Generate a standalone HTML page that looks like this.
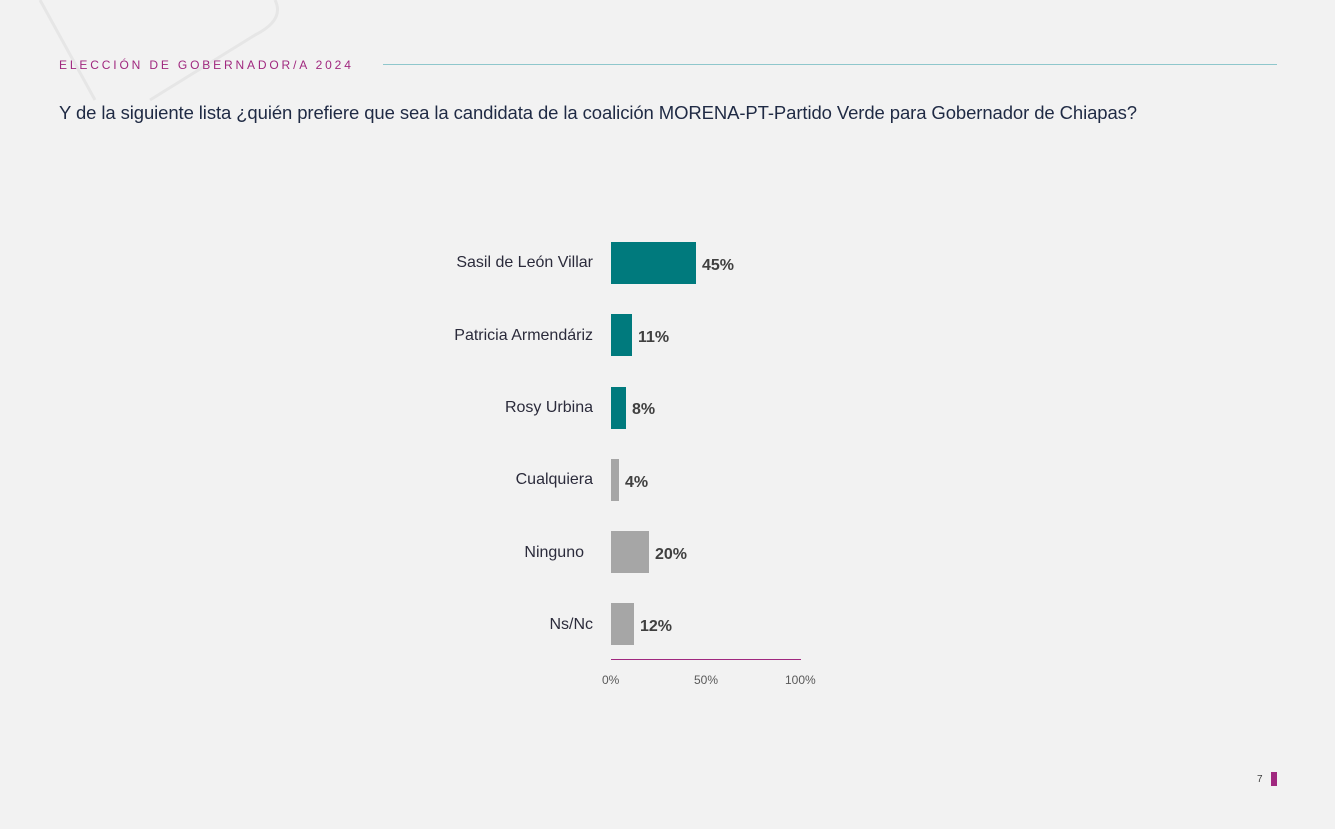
<!DOCTYPE html>
<html><head><meta charset="utf-8"><style>
body{margin:0;width:1335px;height:829px;background:#f2f2f2;position:relative;overflow:hidden;font-family:"Liberation Sans",sans-serif;}
.a{position:absolute;}
.lbl{position:absolute;right:742px;font-size:16px;color:#2b2b3b;white-space:nowrap;}
.bar{position:absolute;left:611px;height:42px;}
.val{position:absolute;font-size:16px;font-weight:bold;color:#404040;}
.tk{position:absolute;top:673px;font-size:12px;color:#595959;}
</style></head><body>
<svg class="a" style="left:0;top:0" width="300" height="110"><path d="M40,0 L95,100 M275,0 Q285,20 255,35 L150,100" stroke="#e6e6e6" stroke-width="3" fill="none"/></svg>
<div class="a" style="left:59px;top:58px;font-size:12px;letter-spacing:2.85px;color:#a0287f;">ELECCIÓN DE GOBERNADOR/A 2024</div>
<div class="a" style="left:383px;top:64px;width:894px;height:1px;background:#8fc7cc;"></div>
<div class="a" style="left:59px;top:102px;font-size:18.5px;letter-spacing:-0.1px;color:#1f2a44;">Y de la siguiente lista ¿quién prefiere que sea la candidata de la coalición MORENA-PT-Partido Verde para Gobernador de Chiapas?</div>

<div class="lbl" style="top:254px">Sasil de León Villar</div>
<div class="bar" style="top:242px;width:85px;background:#007a7d"></div>
<div class="val" style="left:702px;top:257px">45%</div>

<div class="lbl" style="top:327px">Patricia Armendáriz</div>
<div class="bar" style="top:314px;width:21px;background:#007a7d"></div>
<div class="val" style="left:638px;top:329px">11%</div>

<div class="lbl" style="top:399px">Rosy Urbina</div>
<div class="bar" style="top:387px;width:15px;background:#007a7d"></div>
<div class="val" style="left:632px;top:401px">8%</div>

<div class="lbl" style="top:471px">Cualquiera</div>
<div class="bar" style="top:459px;width:8px;background:#a6a6a6"></div>
<div class="val" style="left:625px;top:474px">4%</div>

<div class="lbl" style="top:544px;right:751px">Ninguno</div>
<div class="bar" style="top:531px;width:38px;background:#a6a6a6"></div>
<div class="val" style="left:655px;top:546px">20%</div>

<div class="lbl" style="top:616px">Ns/Nc</div>
<div class="bar" style="top:603px;width:23px;background:#a6a6a6"></div>
<div class="val" style="left:640px;top:618px">12%</div>

<div class="a" style="left:611px;top:659px;width:190px;height:1px;background:#a0287f"></div>
<div class="tk" style="left:602px">0%</div>
<div class="tk" style="left:694px">50%</div>
<div class="tk" style="left:785px">100%</div>

<div class="a" style="left:1257px;top:774px;font-size:10px;color:#404040">7</div>
<div class="a" style="left:1271px;top:772px;width:6px;height:14px;background:#a0287f"></div>
</body></html>
